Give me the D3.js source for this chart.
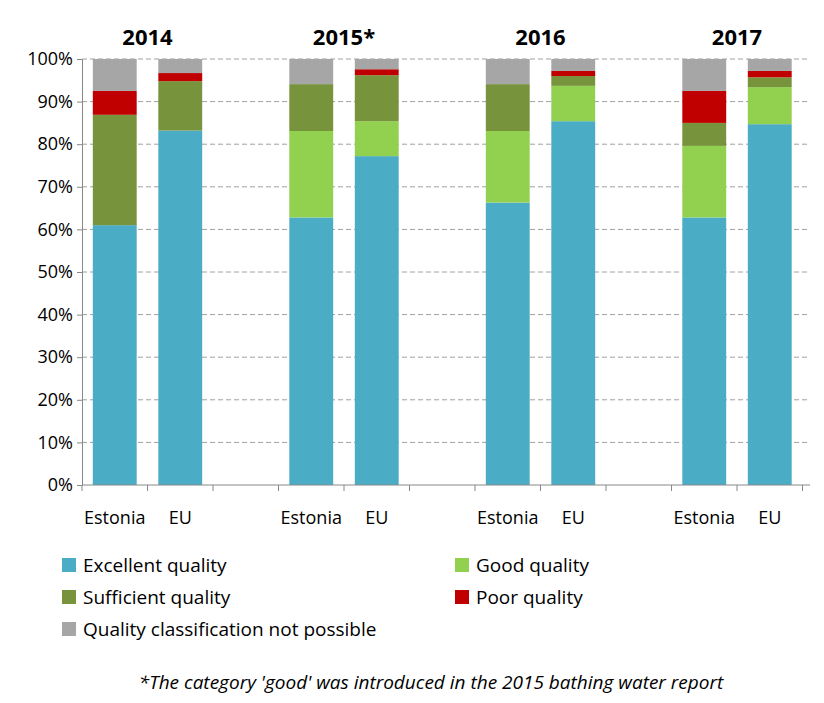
<!DOCTYPE html>
<html><head><meta charset="utf-8">
<script src="https://cdn.jsdelivr.net/npm/d3@7"></script>
<style>body{margin:0;background:#fff}text{font-family:"Open Sans",Lato,sans-serif}</style>
</head><body>
<svg id="c" width="824" height="703"></svg>
<script>
const years = ["2014","2015*","2016","2017"];
const regions = ["Estonia","EU"];
const seriesNames = ["Excellent quality","Good quality","Sufficient quality","Poor quality","Quality classification not possible"];
const colors = ["#4BACC6","#92D050","#77933C","#C00000","#A6A6A6"];
// values per bar in order: 2014 Estonia, 2014 EU, 2015 Estonia, 2015 EU, 2016 Estonia, 2016 EU, 2017 Estonia, 2017 EU
const excellent    = [61.0, 83.2, 62.8, 77.2, 66.3, 85.4, 62.8, 84.7];
const good         = [0.0,  0.0,  20.3, 8.2,  16.8, 8.3,  16.8, 8.7];
const sufficient   = [25.9, 11.6, 11.0, 10.8, 11.0, 2.3,  5.4,  2.3];
const poor         = [5.6,  1.9,  0.0,  1.4,  0.0,  1.2,  7.5,  1.5];
const notPossible  = [7.5,  3.3,  5.9,  2.4,  5.9,  2.8,  7.5,  2.8];
const yTicks = [0,10,20,30,40,50,60,70,80,90,100];

(function(){
const svg = d3.select("#c");
const pTop=59, pBottom=485, pLeft=82, pRight=810;
const slots = d3.range(12);
const x = d3.scaleBand().domain(slots).range([pLeft, pLeft+786]).paddingInner(0.33).paddingOuter(0.165);
const y = d3.scaleLinear().domain([0,100]).range([pBottom, pTop]);

svg.append("g").selectAll("line").data(yTicks.filter(d=>d>0)).join("line")
  .attr("x1",pLeft).attr("x2",pRight).attr("y1",d=>y(d)).attr("y2",d=>y(d))
  .attr("stroke","#a0a0a0").attr("stroke-dasharray","5,3").attr("stroke-width",1);

const series=[excellent,good,sufficient,poor,notPossible];
const bars=[];
years.forEach((yr,gi)=>regions.forEach((r,ri)=>{
  const i=gi*2+ri; let acc=0;
  series.forEach((s,si)=>{bars.push({slot:gi*3+ri,y0:acc,y1:acc+s[i],c:colors[si]});acc+=s[i];});
}));
svg.append("g").selectAll("rect").data(bars).join("rect")
  .attr("x",d=>x(d.slot)).attr("width",x.bandwidth())
  .attr("y",d=>y(d.y1)).attr("height",d=>y(d.y0)-y(d.y1)).attr("fill",d=>d.c);

const ya=svg.append("g").attr("transform",`translate(${pLeft},0)`)
  .call(d3.axisLeft(y).tickValues(yTicks).tickFormat(d=>d+"%").tickSize(5));
ya.select(".domain").attr("stroke","#888");
ya.selectAll(".tick line").attr("stroke","#888");
ya.selectAll("text").attr("font-size",18).attr("fill","#000").attr("dx",-1);
svg.append("line").attr("x1",pLeft).attr("x2",pRight).attr("y1",pBottom).attr("y2",pBottom).attr("stroke","#888");
const step=x.step();
svg.append("g").selectAll("line").data(d3.range(0,12).filter(d=>pLeft+d*step<=pRight)).join("line")
  .attr("x1",d=>pLeft+d*step).attr("x2",d=>pLeft+d*step).attr("y1",pBottom).attr("y2",pBottom+6).attr("stroke","#888");

years.forEach((yr,gi)=>{
  regions.forEach((r,ri)=>svg.append("text").attr("x",x(gi*3+ri)+x.bandwidth()/2).attr("y",524)
    .attr("text-anchor","middle").attr("font-size",18).text(r));
  svg.append("text").attr("x",(x(gi*3)+x(gi*3+1)+x.bandwidth())/2).attr("y",45)
    .attr("text-anchor","middle").attr("font-size",22).attr("font-weight","bold").text(yr);
});

const lp=[[62,565],[455,565],[62,597],[455,597],[62,629]];
seriesNames.forEach((n,i)=>{
  svg.append("rect").attr("x",lp[i][0]).attr("y",lp[i][1]-7).attr("width",14).attr("height",14).attr("fill",colors[i]);
  svg.append("text").attr("x",lp[i][0]+21).attr("y",lp[i][1]+7).attr("font-size",19).text(n);
});
svg.append("text").attr("x",431).attr("y",689).attr("text-anchor","middle").attr("font-size",19)
  .attr("font-style","italic").text("*The category 'good' was introduced  in the 2015 bathing water report");
})();
</script></body></html>
